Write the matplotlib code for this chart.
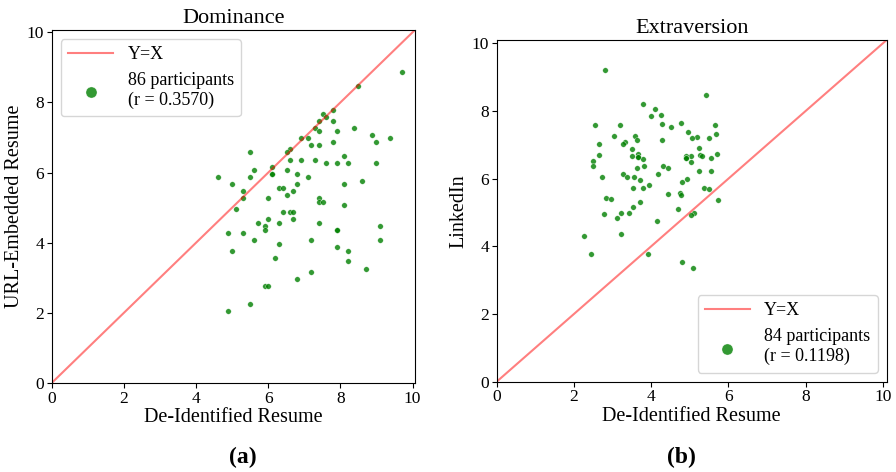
import numpy as np
import matplotlib
matplotlib.use('Agg')
import matplotlib.pyplot as plt

plt.rcParams['font.family'] = ['Liberation Serif', 'DejaVu Serif']

# Dominance: de-identified vs URL-embedded resume
dom_x = [9.70, 8.49, 7.80, 7.51, 7.60, 7.41, 7.80, 7.30, 7.41, 7.90, 8.39, 8.89, 9.00, 9.39,
         6.92, 7.10, 7.20, 7.41, 7.80, 6.60, 6.51, 5.50, 6.60, 6.92, 7.30, 7.60, 7.90, 8.10,
         8.21, 9.00, 6.10, 5.60, 6.51, 6.10, 6.80, 4.61, 5.50, 7.10, 8.60, 4.99, 6.80, 8.10,
         6.30, 6.40, 5.30, 6.70, 6.51, 5.30, 6.00, 7.41, 7.41, 7.51, 8.10, 5.10, 6.40, 6.60,
         6.70, 6.00, 6.70, 5.71, 6.30, 7.41, 5.90, 5.90, 7.90, 9.10, 4.90, 5.30, 5.60, 7.20,
         9.10, 6.30, 4.99, 7.90, 8.21, 6.20, 8.21, 8.70, 7.20, 6.80, 5.90, 6.00, 5.50, 4.90,
         7.90, 6.10]
dom_y = [8.88, 8.48, 7.78, 7.68, 7.58, 7.48, 7.48, 7.28, 7.18, 7.18, 7.28, 7.08, 6.88, 6.98,
         6.98, 6.98, 6.78, 6.78, 6.88, 6.68, 6.58, 6.58, 6.37, 6.37, 6.37, 6.28, 6.28, 6.48,
         6.28, 6.28, 6.17, 6.08, 6.08, 5.97, 5.97, 5.88, 5.88, 5.88, 5.77, 5.68, 5.68, 5.68,
         5.57, 5.57, 5.48, 5.48, 5.37, 5.27, 5.27, 5.27, 5.17, 5.17, 5.07, 4.97, 4.87, 4.87,
         4.87, 4.67, 4.67, 4.57, 4.57, 4.57, 4.47, 4.37, 4.37, 4.47, 4.27, 4.27, 4.07, 4.07,
         4.07, 3.97, 3.77, 3.87, 3.77, 3.57, 3.47, 3.26, 3.17, 2.97, 2.77, 2.77, 2.26, 2.06,
         4.37, 5.97]

# Extraversion: de-identified resume vs LinkedIn
ext_x = [2.80, 5.41, 3.78, 4.11, 3.99, 4.26, 2.55, 3.19, 4.29, 4.78, 4.52, 5.66, 4.96, 5.69,
         3.03, 3.59, 5.18, 5.07, 5.49, 3.63, 4.28, 3.33, 3.28, 2.65, 5.24, 3.50, 3.66, 3.67,
         3.51, 2.65, 3.80, 5.27, 5.31, 5.03, 4.91, 4.90, 5.54, 5.70, 2.50, 2.50, 5.04, 3.81,
         3.63, 4.32, 4.44, 5.25, 5.56, 3.28, 4.17, 2.72, 3.37, 3.55, 4.92, 3.72, 4.81, 3.95,
         3.53, 3.78, 5.37, 5.51, 4.43, 4.75, 4.78, 2.83, 2.95, 5.72, 3.72, 3.53, 4.70, 2.78,
         3.22, 3.42, 5.10, 5.03, 3.12, 4.16, 3.22, 2.26, 2.44, 3.93, 4.80, 5.08, 3.67, 4.90]
ext_y = [9.21, 8.46, 8.21, 8.06, 7.86, 7.88, 7.58, 7.60, 7.61, 7.66, 7.52, 7.58, 7.38, 7.33,
         7.27, 7.25, 7.24, 7.19, 7.20, 7.13, 7.13, 7.09, 7.03, 7.02, 6.90, 6.87, 6.73, 6.65,
         6.68, 6.70, 6.57, 6.69, 6.67, 6.68, 6.66, 6.61, 6.61, 6.74, 6.51, 6.37, 6.48, 6.39,
         6.31, 6.39, 6.31, 6.22, 6.24, 6.14, 6.14, 6.06, 6.05, 6.05, 6.00, 5.95, 5.89, 5.81,
         5.73, 5.73, 5.72, 5.70, 5.55, 5.57, 5.53, 5.42, 5.40, 5.38, 5.32, 5.16, 5.10, 4.95,
         4.99, 4.98, 5.00, 4.94, 4.83, 4.74, 4.38, 4.32, 3.76, 3.76, 3.54, 3.35, 6.65, 6.61]

fig = plt.figure(figsize=(8.96, 4.72), dpi=100)
ax1 = fig.add_axes([0.0577, 0.1886, 0.4055, 0.748])
ax2 = fig.add_axes([0.5543, 0.1913, 0.4353, 0.724])

panels = [
    (ax1, dom_x, dom_y, 'Dominance', 'URL-Embedded Resume', '86 participants\n(r = 0.3570)',
     'upper left', 10.07),
    (ax2, ext_x, ext_y, 'Extraversion', 'LinkedIn', '84 participants\n(r = 0.1198)',
     'lower right', 10.1),
]

for ax, xs, ys, title, ylabel, lab, loc, lim in panels:
    ax.plot([0, lim], [0, lim], color='red', alpha=0.5, lw=1.5, label='Y=X')
    ax.scatter(xs, ys, s=16, color='green', alpha=0.8, edgecolors='white', linewidths=0.3,
               label=lab)
    ax.set_xlim(0, lim)
    ax.set_ylim(0, lim)
    ax.set_xticks([0, 2, 4, 6, 8, 10])
    ax.set_yticks([0, 2, 4, 6, 8, 10])
    ax.tick_params(labelsize=12.5, pad=2)
    ax.set_title(title, fontsize=16, pad=5)
    ax.set_xlabel('De-Identified Resume', fontsize=14.5, labelpad=1)
    ax.set_ylabel(ylabel, fontsize=14.5, labelpad=2)
    ax.legend(loc=loc, fontsize=13, markerscale=2.0, handlelength=2.5)

fig.text(0.271, 0.018, '(a)', fontsize=17, fontweight='bold', ha='center')
fig.text(0.760, 0.018, '(b)', fontsize=17, fontweight='bold', ha='center')

fig.savefig('out.png', dpi=100)
